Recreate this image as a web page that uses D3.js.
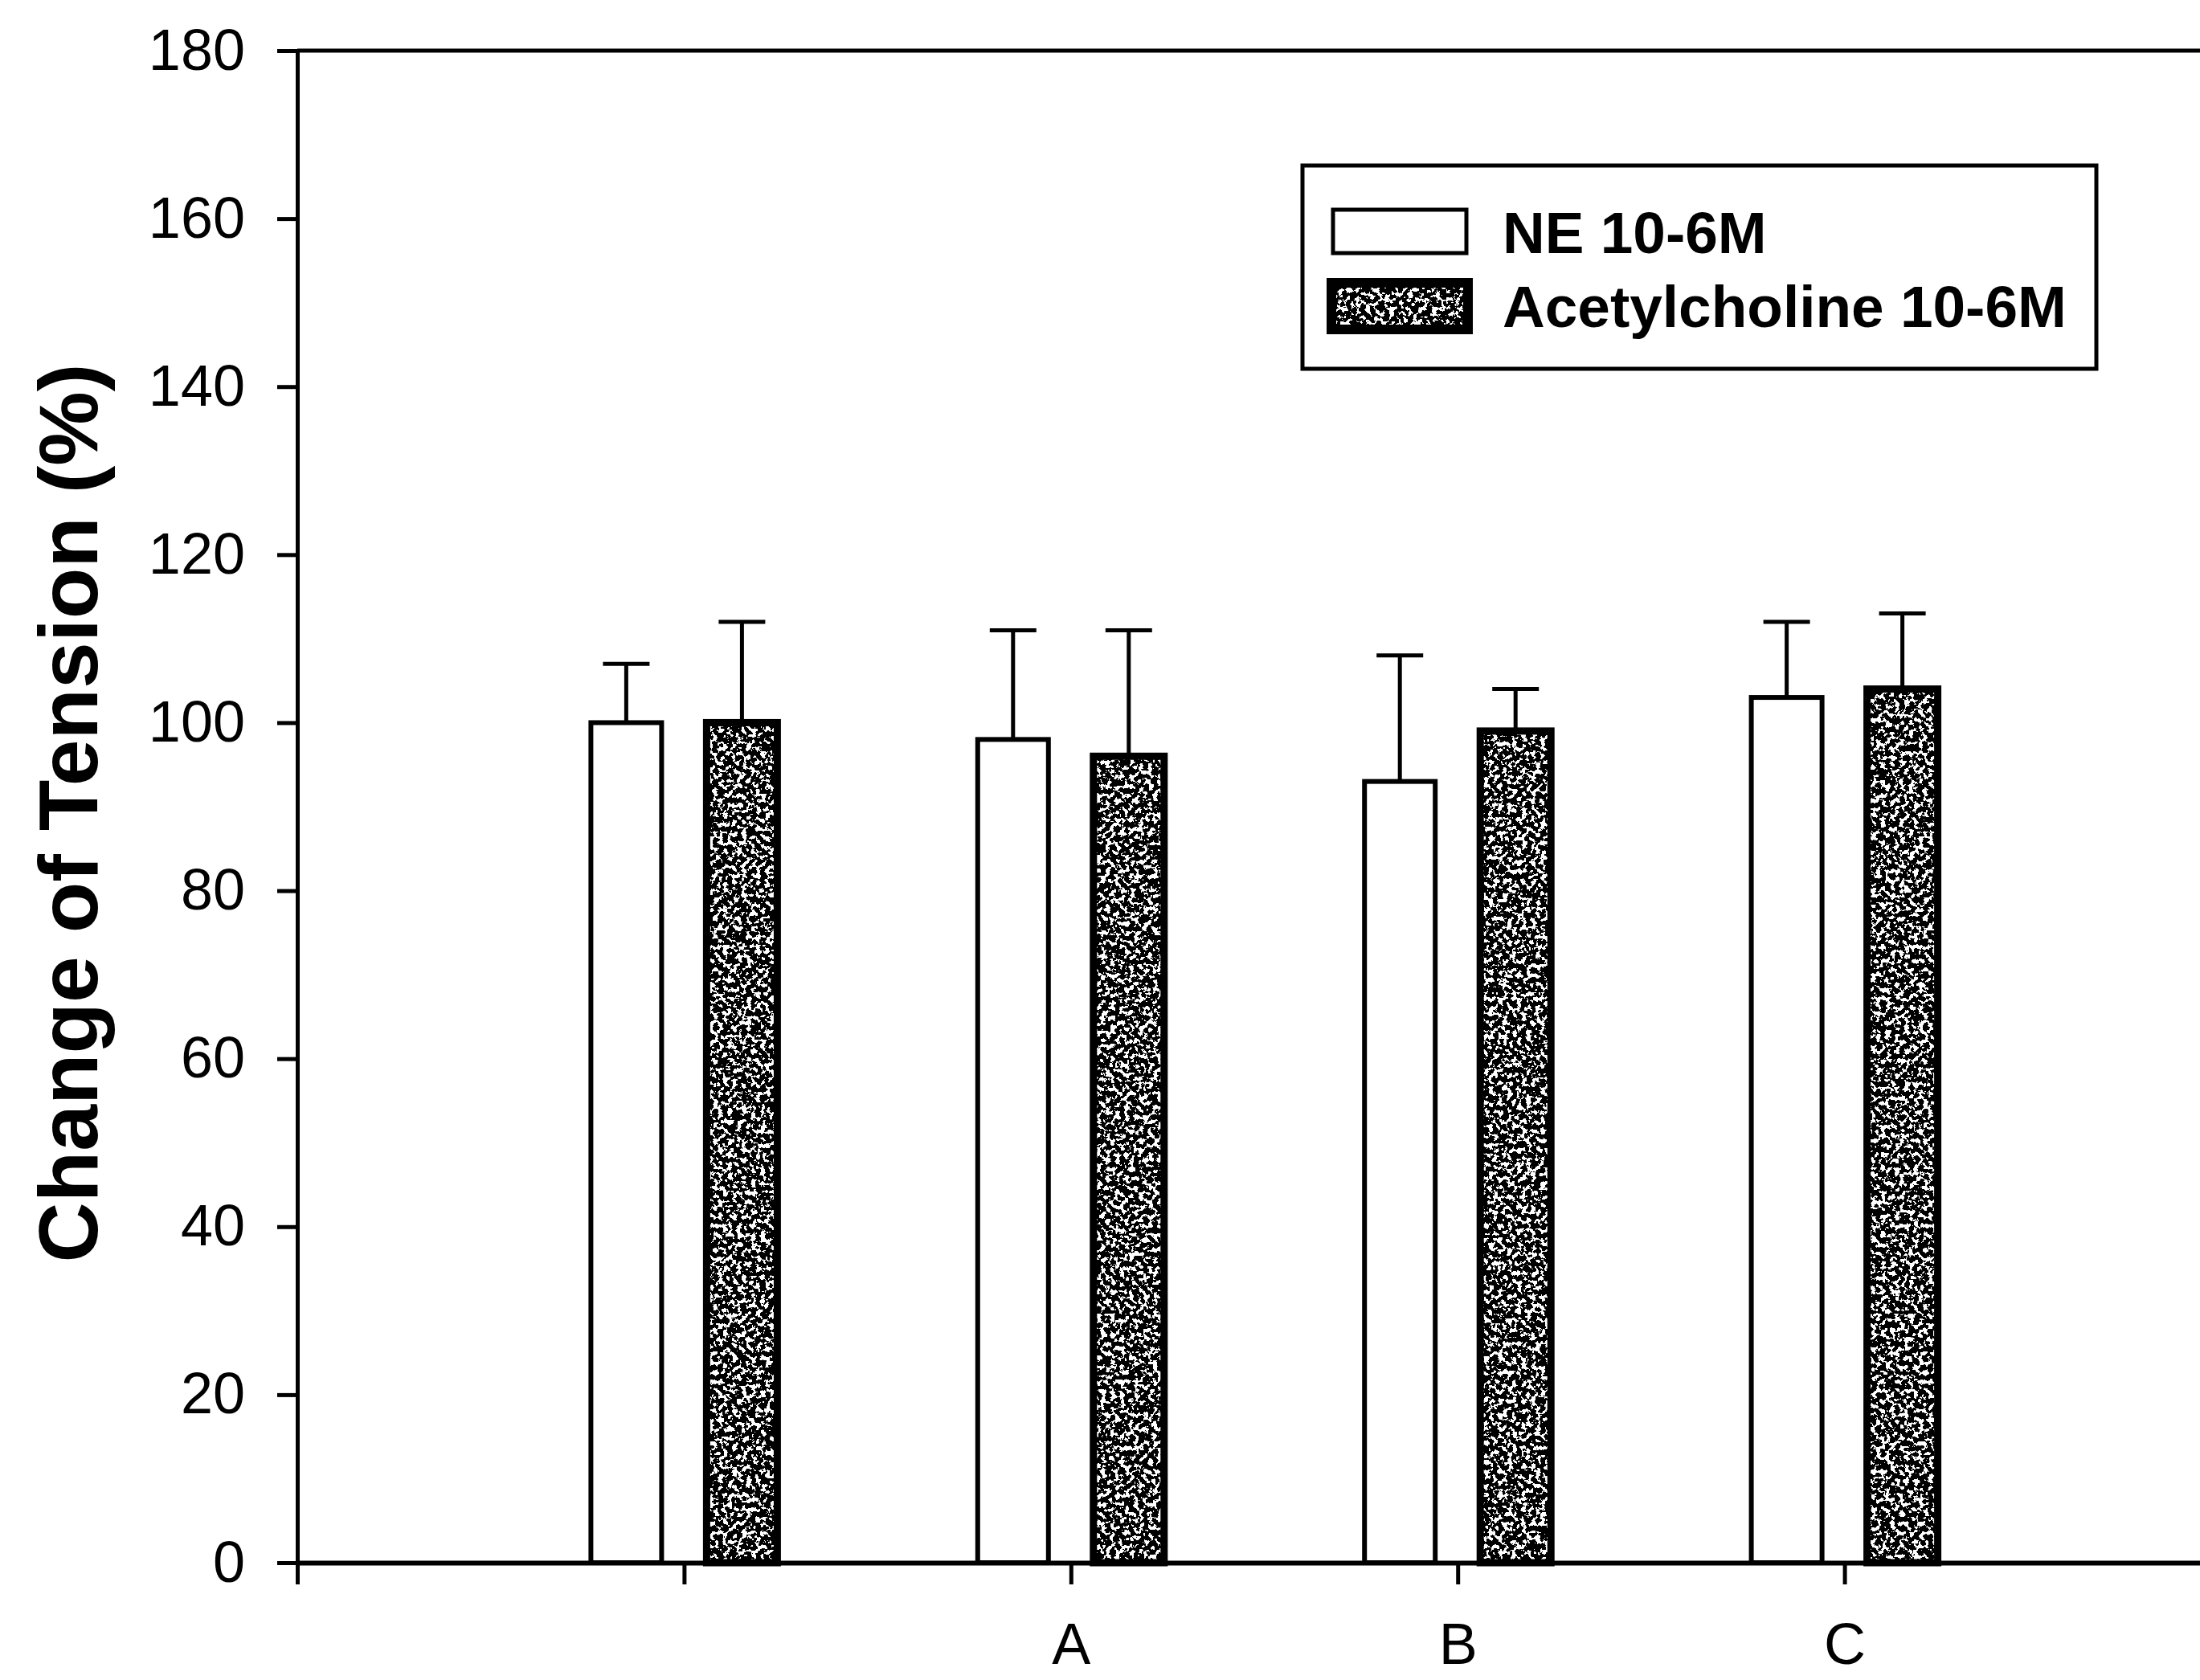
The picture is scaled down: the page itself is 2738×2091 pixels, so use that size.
<!DOCTYPE html>
<html>
<head>
<meta charset="utf-8">
<script src="https://cdn.jsdelivr.net/npm/d3@7"></script>
<style>
  body { margin: 0; background: #fff; }
  svg { display: block; font-family: "Liberation Sans", Arial, sans-serif; }
</style>
</head>
<body>
<div id="chart"></div>
<script>
// Data
const groups = ["", "A", "B", "C"];
const neMean = [100, 98, 93, 103];
const neErr = [7, 13, 15, 9];
const achMean = [100, 96, 99, 104];
const achErr = [12, 15, 5, 9];
const seriesNames = ["NE 10-6M", "Acetylcholine 10-6M"];
const yTicks = [0, 20, 40, 60, 80, 100, 120, 140, 160, 180];

const width = 2738, height = 2091;

const svg = d3.select("#chart")
    .append("svg")
    .attr("width", width)
    .attr("height", height);

svg.append("rect").attr("width", width).attr("height", height).attr("fill", "#fff");

// speckled fill for the acetylcholine bars
const defs = svg.append("defs");
const f = defs.append("filter")
    .attr("id", "speckle")
    .attr("x", 0).attr("y", 0).attr("width", 1).attr("height", 1);
f.append("feTurbulence")
    .attr("type", "fractalNoise")
    .attr("baseFrequency", 0.17)
    .attr("numOctaves", 3)
    .attr("seed", 7)
    .attr("result", "noise");
f.append("feColorMatrix")
    .attr("type", "matrix")
    .attr("values", "1 0 0 0 0  1 0 0 0 0  1 0 0 0 0  0 0 0 0 1")
    .attr("result", "grey");
const ct = f.append("feComponentTransfer").attr("result", "bw");
["feFuncR", "feFuncG", "feFuncB"].forEach(fn =>
    ct.append(fn).attr("type", "discrete").attr("tableValues", "0 0 0 0 0 0 1 1 1 1 1"));
f.append("feComposite").attr("in", "bw").attr("in2", "SourceGraphic").attr("operator", "in");

// Scales
const x = d3.scaleLinear().domain([0, 5]).range([370, 2777]);
const y = d3.scaleLinear().domain([0, 180]).range([1945, 63]);

const barW = 88, offset = 72, capW = 58;

// Top frame line
svg.append("line")
    .attr("x1", x(0)).attr("x2", x(5))
    .attr("y1", y(180)).attr("y2", y(180))
    .attr("stroke", "#000").attr("stroke-width", 5);

// Y axis
const yAxis = svg.append("g")
    .attr("transform", `translate(${x(0)},0)`)
    .call(d3.axisLeft(y).tickValues(yTicks).tickSize(25).tickSizeOuter(0).tickPadding(40));
yAxis.select(".domain").attr("stroke-width", 5);
yAxis.selectAll(".tick line").attr("stroke-width", 5);
yAxis.selectAll(".tick text").attr("font-size", 72).attr("fill", "#000");

// X axis
const xAxis = svg.append("g")
    .attr("transform", `translate(0,${y(0)})`)
    .call(d3.axisBottom(x).tickValues([0, 1, 2, 3, 4])
        .tickFormat(d => d === 0 ? "" : groups[d - 1])
        .tickSize(27).tickSizeOuter(0).tickPadding(48));
xAxis.select(".domain").attr("stroke-width", 6);
xAxis.selectAll(".tick line").attr("stroke-width", 5);
xAxis.selectAll(".tick text").attr("font-size", 72).attr("fill", "#000");

// Y title
svg.append("text")
    .attr("transform", `translate(121,1012) rotate(-90)`)
    .attr("text-anchor", "middle")
    .attr("font-size", 104)
    .attr("font-weight", "bold")
    .text("Change of Tension (%)");

// Bars
const bars = svg.append("g");
groups.forEach((g, i) => {
    const cx = x(i + 1);
    // NE bar (white)
    const nx = cx - offset;
    bars.append("rect")
        .attr("x", nx - barW / 2).attr("width", barW)
        .attr("y", y(neMean[i])).attr("height", y(0) - y(neMean[i]))
        .attr("fill", "#fff").attr("stroke", "#000").attr("stroke-width", 6);
    // ACh bar (speckled)
    const ax = cx + offset;
    bars.append("rect")
        .attr("x", ax - barW / 2).attr("width", barW)
        .attr("y", y(achMean[i])).attr("height", y(0) - y(achMean[i]))
        .attr("fill", "#000").attr("filter", "url(#speckle)");
    bars.append("rect")
        .attr("x", ax - barW / 2).attr("width", barW)
        .attr("y", y(achMean[i])).attr("height", y(0) - y(achMean[i]))
        .attr("fill", "none").attr("stroke", "#000").attr("stroke-width", 9);

    // error bars (upper only)
    [[nx, neMean[i], neErr[i]], [ax, achMean[i], achErr[i]]].forEach(([bx, m, e]) => {
        bars.append("line")
            .attr("x1", bx).attr("x2", bx)
            .attr("y1", y(m)).attr("y2", y(m + e))
            .attr("stroke", "#000").attr("stroke-width", 5);
        bars.append("line")
            .attr("x1", bx - capW / 2).attr("x2", bx + capW / 2)
            .attr("y1", y(m + e)).attr("y2", y(m + e))
            .attr("stroke", "#000").attr("stroke-width", 5);
    });
});

// Legend
const legend = svg.append("g");
legend.append("rect")
    .attr("x", 1621).attr("y", 206).attr("width", 988).attr("height", 253)
    .attr("fill", "#fff").attr("stroke", "#000").attr("stroke-width", 5);
legend.append("rect")
    .attr("x", 1659).attr("y", 261).attr("width", 166).attr("height", 54)
    .attr("fill", "#fff").attr("stroke", "#000").attr("stroke-width", 5);
legend.append("rect")
    .attr("x", 1657).attr("y", 352).attr("width", 170).attr("height", 58)
    .attr("fill", "#000").attr("filter", "url(#speckle)");
legend.append("rect")
    .attr("x", 1657).attr("y", 352).attr("width", 170).attr("height", 58)
    .attr("fill", "none").attr("stroke", "#000").attr("stroke-width", 12);
legend.selectAll("text.leg")
    .data(seriesNames)
    .join("text")
    .attr("class", "leg")
    .attr("x", 1870)
    .attr("y", (d, i) => 315 + i * 92)
    .attr("font-size", 73)
    .attr("font-weight", "bold")
    .text(d => d);
</script>
</body>
</html>
